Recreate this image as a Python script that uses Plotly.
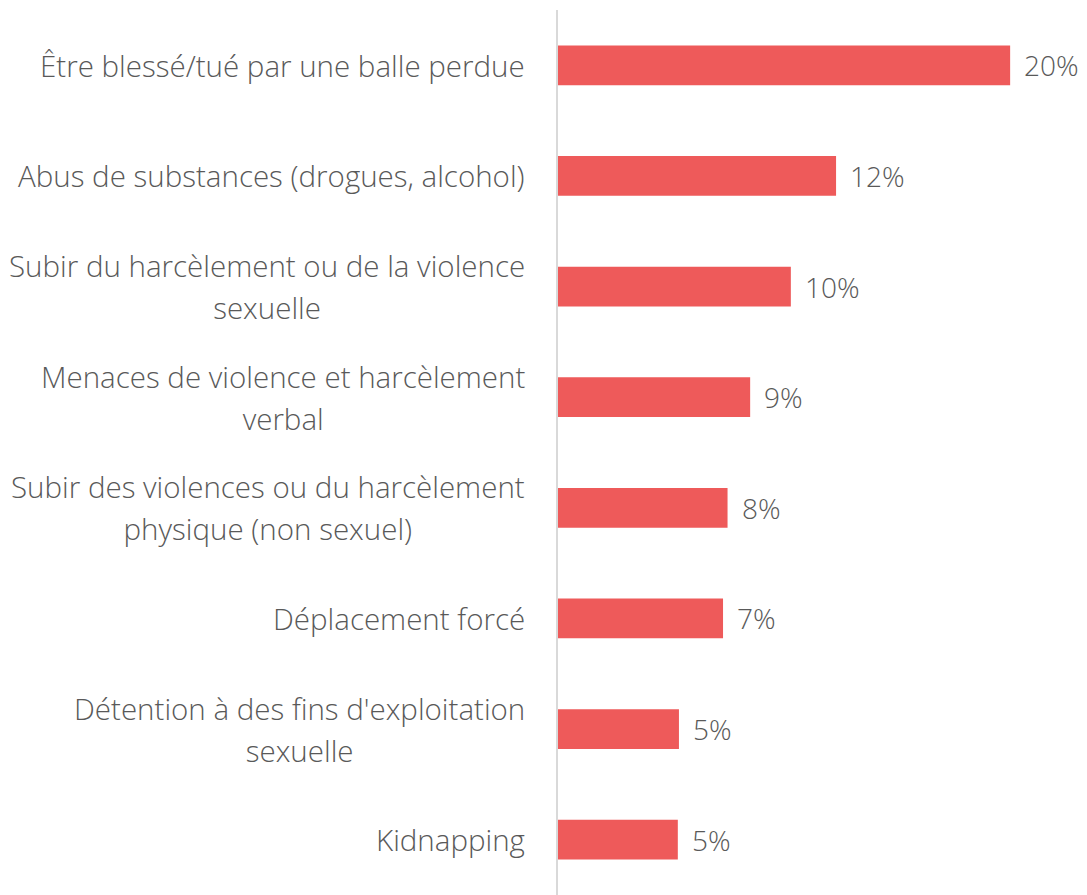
import plotly.graph_objects as go

categories = [
    "Être blessé/tué par une balle perdue",
    "Abus de substances (drogues, alcohol)",
    "Subir du harcèlement ou de la violence<br>sexuelle",
    "Menaces de violence et harcèlement<br>verbal",
    "Subir des violences ou du harcèlement<br>physique (non sexuel)",
    "Déplacement forcé",
    "Détention à des fins d'exploitation<br>sexuelle",
    "Kidnapping",
]
values = [20.0, 12.3, 10.3, 8.5, 7.5, 7.3, 5.35, 5.3]
value_labels = ["20%", "12%", "10%", "9%", "8%", "7%", "5%", "5%"]

BAR = "#EE5A5A"
TXT = "#595959"
FONT = "Open Sans"

fig = go.Figure(go.Bar(
    x=values, y=categories, orientation="h",
    marker=dict(color=BAR, line=dict(width=0)),
    width=0.36, hoverinfo="skip",
))

ann = []
for c, v, lab in zip(categories, values, value_labels):
    ann.append(dict(x=v, y=c, xref="x", yref="y", text=lab, showarrow=False,
                    xanchor="left", xshift=12,
                    font=dict(family=FONT, size=28, color=TXT, weight=300)))
    lines = c.split("<br>")
    styled = "<br>".join('<span style="font-size:29.5px">%s</span>' % ln for ln in lines)
    ann.append(dict(x=0, y=c, xref="x", yref="y", text=styled, showarrow=False,
                    xanchor="right", yanchor="middle", xshift=-31, align="center",
                    font=dict(family=FONT, size=32.3, color=TXT, weight=300)))

fig.update_layout(
    width=1079, height=887,
    margin=dict(l=550, r=0, t=2, b=0),
    plot_bgcolor="white", paper_bgcolor="white",
    showlegend=False,
    annotations=ann,
    xaxis=dict(range=[0, 23.4], visible=False, fixedrange=True),
    yaxis=dict(categoryorder="array", categoryarray=categories[::-1],
               showticklabels=False, ticks="", showgrid=False,
               showline=True, linecolor="#D9D9D9", linewidth=2,
               zeroline=False, range=[-0.5, 7.5]),
)
fig.update_xaxes(showgrid=False, zeroline=False)

fig.write_html("out.html")
